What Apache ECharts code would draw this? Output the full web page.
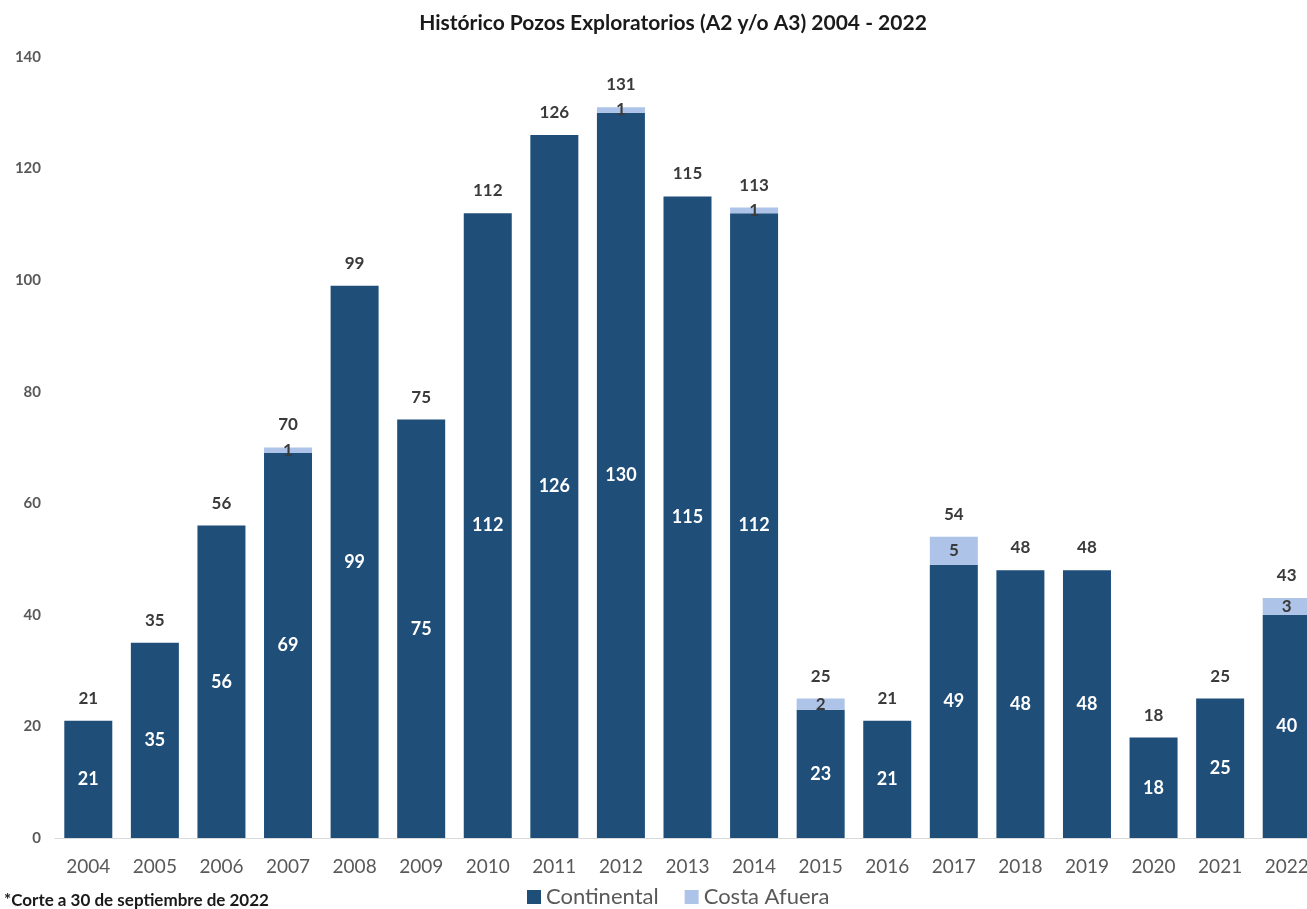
<!DOCTYPE html>
<html>
<head>
<meta charset="utf-8">
<script src="https://cdn.jsdelivr.net/npm/echarts@6/dist/echarts.min.js"></script>
<style>
  html, body { margin: 0; padding: 0; background: #fff; overflow: hidden; }
  #chart { width: 1330px; height: 909px; }
</style>
</head>
<body>
<div id="chart"></div>
<script>
// Exploratory wells per year, split by onshore / offshore
const years = ['2004','2005','2006','2007','2008','2009','2010','2011','2012','2013','2014','2015','2016','2017','2018','2019','2020','2021','2022'];
const continental = [21, 35, 56, 69, 99, 75, 112, 126, 130, 115, 112, 23, 21, 49, 48, 48, 18, 25, 40];
const costaAfuera = [0, 0, 0, 1, 0, 0, 0, 0, 1, 0, 1, 2, 0, 5, 0, 0, 0, 0, 3];
const yTicks = [0, 20, 40, 60, 80, 100, 120, 140];

const totals = continental.map((v, i) => v + costaAfuera[i]);

const FONT = 'Lato, "Open Sans", sans-serif';
const DARK = '#1f4e79';
const LIGHT = '#adc3e8';

const chart = echarts.init(document.getElementById('chart'));
chart.setOption({
  animation: false,
  textStyle: { fontFamily: FONT },
  title: {
    text: 'Histórico Pozos Exploratorios (A2 y/o A3) 2004 - 2022',
    left: 668,
    textAlign: 'center',
    top: 8,
    textStyle: { fontFamily: FONT, fontSize: 21, fontWeight: 'bold', color: '#1a1a1a' }
  },
  legend: {
    left: 522,
    top: 881,
    itemWidth: 14,
    itemHeight: 14,
    itemGap: 26,
    icon: 'rect',
    textStyle: { fontFamily: FONT, fontSize: 22, color: '#595959' },
    data: ['Continental', 'Costa Afuera']
  },
  grid: { left: 55, right: 10, top: 57, bottom: 71, containLabel: false },
  xAxis: {
    type: 'category',
    data: years,
    axisLine: { lineStyle: { color: '#d9d9d9', width: 1 } },
    axisTick: { show: false },
    axisLabel: { fontFamily: FONT, fontSize: 19, color: '#595959', margin: 19 }
  },
  yAxis: {
    type: 'value',
    min: yTicks[0],
    max: yTicks[yTicks.length - 1],
    interval: 20,
    splitLine: { show: false },
    axisLine: { show: false },
    axisTick: { show: false },
    axisLabel: { fontFamily: FONT, fontSize: 15, fontWeight: 'bold', color: '#595959', margin: 14 }
  },
  series: [
    {
      name: 'Continental',
      type: 'bar',
      stack: 'total',
      barWidth: 48,
      data: continental,
      itemStyle: { color: DARK },
      label: {
        show: true,
        position: 'inside',
        fontFamily: FONT,
        fontSize: 18,
        fontWeight: 'bold',
        color: '#ffffff'
      }
    },
    {
      name: 'Costa Afuera',
      type: 'bar',
      stack: 'total',
      barWidth: 48,
      data: costaAfuera,
      itemStyle: { color: LIGHT },
      label: {
        show: true,
        position: 'inside',
        fontFamily: FONT,
        fontSize: 17,
        fontWeight: 'bold',
        color: '#3a3a3a',
        formatter: p => (p.value ? String(p.value) : '')
      }
    },
    {
      name: 'Total',
      type: 'bar',
      stack: 'total',
      barWidth: 48,
      data: totals.map(() => 0),
      itemStyle: { color: 'transparent' },
      tooltip: { show: false },
      label: {
        show: true,
        position: 'top',
        distance: 14,
        fontFamily: FONT,
        fontSize: 17,
        fontWeight: 'bold',
        color: '#3a3a3a',
        formatter: p => String(totals[p.dataIndex])
      }
    }
  ],
  graphic: [
    {
      type: 'text',
      left: 4,
      top: 892,
      style: {
        text: '*Corte a 30 de septiembre de 2022',
        fontFamily: FONT,
        fontSize: 17,
        fontWeight: 'bold',
        fill: '#1a1a1a'
      }
    }
  ]
});
</script>
</body>
</html>
